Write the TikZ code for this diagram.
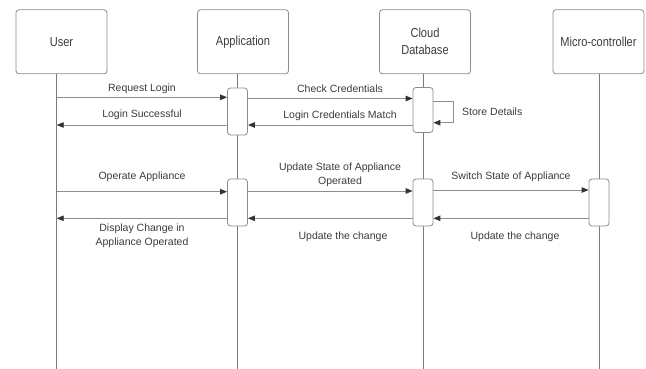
\documentclass[tikz,border=0pt]{standalone}
\usepackage{fontspec}
\setmainfont{Liberation Sans}
\usetikzlibrary{arrows.meta}
\definecolor{boxgray}{HTML}{8C8C8C}
\definecolor{linegray}{HTML}{8E8E8E}
\definecolor{lifegray}{HTML}{7A7A7A}
\definecolor{tipdark}{HTML}{333333}
\definecolor{textdark}{HTML}{3C3C3C}
\newcommand{\nar}[1]{\scalebox{0.85}[1]{#1}}
\tikzset{
  head/.style={draw=boxgray, line width=0.8pt, rounded corners=3pt, fill=white,
    minimum width=91pt, minimum height=64pt, inner sep=0pt, align=center,
    text=textdark, font=\fontsize{13}{17}\selectfont},
  act/.style={draw=boxgray, line width=0.8pt, rounded corners=3pt, fill=white,
    minimum width=20pt, inner sep=0pt},
  life/.style={draw=lifegray, line width=0.9pt},
  msg/.style={draw=linegray, line width=0.9pt,
    -{Triangle[length=7pt,width=5.5pt,color=tipdark,fill=tipdark]}},
  lbl/.style={text=textdark, font=\fontsize{10.5}{14}\selectfont, inner sep=0pt, align=center}
}
\begin{document}
\begin{tikzpicture}[x=1pt,y=-1pt]
\useasboundingbox (0,0) rectangle (646,369);
\fill[white] (0,0) rectangle (646,369);

% participant heads
\node[head] (user) at (61.5,41.8) {\nar{User}};
\node[head] (app)  at (243,41.8) {\nar{Application}};
\node[head] (db)   at (425,41.8) {\nar{Cloud}\\\nar{Database}};
\node[head] (mc)   at (598.5,41.8) {\nar{Micro-controller}};

% lifelines
\coordinate (uTop) at (56.7,74); \coordinate (uBot) at (56.7,369);
\coordinate (aTop) at (237.5,74); \coordinate (aBot) at (237.5,369);
\coordinate (dTop) at (423,74);   \coordinate (dBot) at (423,369);
\coordinate (mTop) at (599,74);   \coordinate (mBot) at (599,369);
\draw[life] (uTop) -- (uBot);
\draw[life] (aTop) -- (aBot);
\draw[life] (dTop) -- (dBot);
\draw[life] (mTop) -- (mBot);

% activation bars
\node[act, minimum height=47pt] (a1) at (237.5,111.5) {};
\node[act, minimum height=45pt] (d1) at (423,110) {};
\node[act, minimum height=47pt] (a2) at (237.5,202.5) {};
\node[act, minimum height=47pt] (d2) at (423,202.5) {};
\node[act, minimum height=47pt] (m2) at (599,202.5) {};

% login phase
\coordinate (u1) at (56.7,97.3);
\draw[msg] (u1) -- (u1 -| a1.west);
\node[lbl] (tReq) at (142,89) {Request Login};

\coordinate (a1o) at (247.5,98.5);
\draw[msg] (a1o) -- (a1o -| d1.west);
\node[lbl] (tChk) at (340,89) {Check Credentials};

\coordinate (d1s) at (433,101);
\coordinate (loopA) at (453.5,101);
\coordinate (loopB) at (453.5,122.7);
\draw[msg] (d1s) -- (loopA) -- (loopB) -- (loopB -| d1.east);
\node[lbl, anchor=west] (tStore) at (462,111.5) {Store Details};

\coordinate (d1r) at (413,125);
\draw[msg] (d1r) -- (d1r -| a1.east);
\node[lbl] (tMatch) at (340,116) {Login Credentials Match};

\coordinate (a1r) at (227.5,125);
\draw[msg] (a1r) -- (a1r -| uTop);
\node[lbl] (tOk) at (142,115) {Login Successful};

% appliance phase
\coordinate (u2) at (56.7,191.7);
\draw[msg] (u2) -- (u2 -| a2.west);
\node[lbl] (tOp) at (142,177) {Operate Appliance};

\coordinate (a2o) at (247.5,191);
\draw[msg] (a2o) -- (a2o -| d2.west);
\node[lbl] (tUpd) at (340,175) {Update State of Appliance\\Operated};

\coordinate (d2o) at (433,190);
\draw[msg] (d2o) -- (d2o -| m2.west);
\node[lbl] (tSw) at (511,177) {Switch State of Appliance};

\coordinate (m2r) at (588.5,218.3);
\draw[msg] (m2r) -- (m2r -| d2.east);
\node[lbl] (tCh2) at (515,237) {Update the change};

\coordinate (d2r) at (412.5,218.3);
\draw[msg] (d2r) -- (d2r -| a2.east);
\node[lbl] (tCh1) at (343,237) {Update the change};

\coordinate (a2r) at (227.5,218.3);
\draw[msg] (a2r) -- (a2r -| uTop);
\node[lbl] (tDisp) at (142,236) {Display Change in\\Appliance Operated};
\end{tikzpicture}
\end{document}
